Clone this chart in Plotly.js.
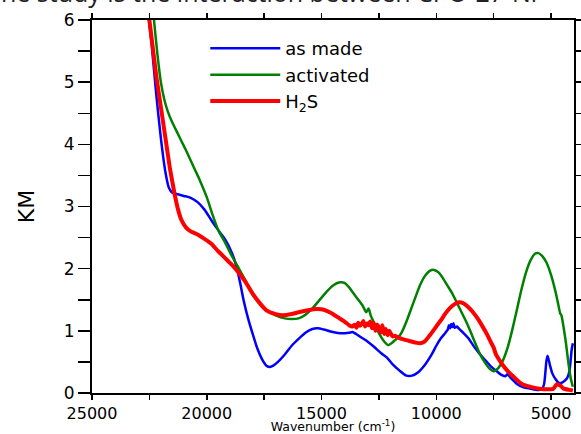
<!DOCTYPE html>
<html>
<head>
<meta charset="utf-8">
<script src="https://cdn.plot.ly/plotly-3.0.1.min.js"></script>
<style>html,body{margin:0;padding:0;background:#fff;}#chart{width:581px;height:434px;}</style>
</head>
<body>
<div id="chart"></div>
<script>
// Wavenumber (cm-1) and KM values
var asMadeX = [22700,22400,22200,22000,21800,21650,21500,21300,21000,20700,20400,20100,19800,19500,19200,18900,18700,18550,18400,18200,18000,17800,17600,17400,17250,17100,16900,16600,16300,16000,15700,15400,15150,14900,14600,14350,14100,13800,13650,13500,13300,13000,12700,12400,12150,11900,11600,11300,11050,10800,10500,10200,10000,9800,9600,9500,9450,9400,9350,9300,9250,9200,9100,9000,8800,8600,8400,8200,8000,7800,7600,7400,7200,7000,6900,6750,6500,6200,5900,5600,5400,5300,5200,5150,5050,4950,4800,4650,4500,4400,4300,4200,4100,4050];
var asMadeY = [6.6,5.6,4.8,4.1,3.55,3.3,3.22,3.2,3.17,3.14,3.07,2.95,2.78,2.62,2.47,2.25,2.03,1.78,1.5,1.2,0.95,0.72,0.55,0.44,0.42,0.44,0.5,0.62,0.76,0.87,0.97,1.03,1.04,1.02,0.99,0.97,0.96,0.97,0.98,0.95,0.9,0.83,0.74,0.64,0.57,0.46,0.36,0.28,0.28,0.33,0.45,0.62,0.76,0.88,0.97,1.02,1.09,1.04,1.11,1.06,1.12,1.05,1.07,1.03,0.96,0.88,0.77,0.67,0.58,0.5,0.42,0.36,0.3,0.27,0.3,0.24,0.15,0.09,0.07,0.05,0.06,0.15,0.52,0.6,0.45,0.32,0.22,0.16,0.17,0.2,0.24,0.35,0.7,0.8];

var activatedX = [22600,22450,22300,22150,22000,21850,21700,21500,21300,21100,20900,20700,20500,20300,20000,19750,19500,19200,18900,18600,18300,18100,17800,17400,17000,16600,16300,16000,15700,15400,15100,14800,14500,14200,14000,13800,13600,13400,13200,13050,12950,12850,12700,12550,12400,12250,12100,11950,11800,11650,11500,11300,11100,10900,10700,10500,10300,10100,9900,9700,9500,9300,9100,8900,8700,8500,8300,8100,7900,7700,7500,7300,7100,6900,6700,6500,6300,6100,5900,5700,5550,5400,5200,5000,4800,4700,4600,4550,4450,4350,4250,4150,4050];
var activatedY = [7.2,6.6,6.0,5.45,5.0,4.72,4.53,4.35,4.2,4.05,3.9,3.74,3.58,3.42,3.15,2.87,2.62,2.42,2.2,2.0,1.8,1.64,1.48,1.33,1.25,1.2,1.19,1.2,1.26,1.36,1.49,1.62,1.73,1.78,1.77,1.7,1.6,1.5,1.4,1.3,1.36,1.24,1.12,1.0,0.9,0.82,0.77,0.8,0.85,0.9,0.98,1.15,1.35,1.55,1.74,1.88,1.96,1.98,1.94,1.84,1.72,1.6,1.45,1.3,1.15,0.98,0.8,0.63,0.5,0.4,0.35,0.4,0.52,0.72,1.0,1.32,1.65,1.93,2.13,2.24,2.25,2.21,2.1,1.9,1.62,1.45,1.28,1.25,1.05,0.8,0.5,0.25,0.1];

var h2sX = [22700,22400,22200,22000,21800,21600,21400,21250,21100,20900,20700,20400,20100,19800,19500,19200,18900,18600,18300,18000,17700,17400,17000,16700,16300,16000,15600,15200,14900,14600,14300,14000,13800,13650,13550,13480,13400,13320,13250,13180,13100,13020,12950,12880,12800,12730,12650,12580,12500,12420,12350,12270,12200,12120,12050,11970,11900,11800,11650,11500,11200,10900,10700,10500,10300,10000,9800,9600,9400,9200,9000,8800,8600,8400,8200,8000,7800,7600,7500,7400,7200,7000,6800,6600,6400,6200,6000,5800,5500,5200,4900,4750,4600,4450,4200,4050];
var h2sY = [6.6,5.7,5.1,4.6,4.1,3.6,3.2,2.95,2.78,2.66,2.6,2.55,2.48,2.4,2.28,2.17,2.06,1.93,1.78,1.6,1.45,1.33,1.27,1.25,1.27,1.3,1.33,1.35,1.34,1.29,1.22,1.15,1.09,1.07,1.1,1.05,1.13,1.08,1.11,1.16,1.07,1.12,1.09,1.15,1.04,1.13,1.0,1.1,1.06,0.97,1.09,0.95,1.03,0.93,1.0,0.95,0.91,0.92,0.89,0.87,0.84,0.81,0.8,0.83,0.92,1.07,1.17,1.28,1.37,1.43,1.46,1.44,1.38,1.3,1.2,1.08,0.95,0.8,0.73,0.62,0.5,0.4,0.32,0.25,0.18,0.13,0.11,0.09,0.07,0.06,0.07,0.14,0.12,0.07,0.05,0.04];

var xTickVals = [25000,20000,15000,10000,5000];
var yTickVals = [0,1,2,3,4,5,6];

var traces = [
  {x: asMadeX, y: asMadeY, name: 'as made', mode: 'lines', line: {color: '#0000ff', width: 2.5, shape: 'spline', smoothing: 0.6}},
  {x: activatedX, y: activatedY, name: 'activated', mode: 'lines', line: {color: '#008000', width: 2.5, shape: 'spline', smoothing: 0.6}},
  {x: h2sX, y: h2sY, name: 'H<sub>2</sub>S', mode: 'lines', line: {color: '#ff0000', width: 4, shape: 'spline', smoothing: 0.5}}
];

var font = 'DejaVu Sans, Liberation Sans, Arial, sans-serif';
var layout = {
  width: 581, height: 434,
  margin: {l: 92, r: 7, t: 20, b: 41},
  paper_bgcolor: '#ffffff', plot_bgcolor: '#ffffff',
  showlegend: true,
  legend: {x: 0.235, y: 0.973, xanchor: 'left', yanchor: 'top', bgcolor: 'rgba(0,0,0,0)', font: {family: font, size: 18, color: '#000'}, itemwidth: 70, tracegroupgap: 0},
  xaxis: {
    range: [25000, 4000], autorange: false,
    tickvals: xTickVals, ticktext: xTickVals.map(String),
    ticks: 'outside', ticklen: 5, tickwidth: 1.5, tickcolor: '#000',
    minor: {dtick: 2500, tick0: 0, ticks: 'outside', ticklen: 5, tickwidth: 1.5, tickcolor: '#000'},
    showline: true, linecolor: '#000', linewidth: 2, mirror: 'ticks',
    showgrid: false, zeroline: false,
    tickfont: {family: font, size: 16, color: '#000'},
    title: {text: 'Wavenumber (cm<sup>-1</sup>)', font: {family: font, size: 12.5, color: '#000'}, standoff: 8}
  },
  yaxis: {
    range: [0, 6], autorange: false,
    tickvals: yTickVals,
    ticks: 'outside', ticklen: 12, tickwidth: 1.5, tickcolor: '#000',
    minor: {dtick: 0.5, ticks: 'outside', ticklen: 12, tickwidth: 1.5, tickcolor: '#000'},
    showline: true, linecolor: '#000', linewidth: 2, mirror: 'ticks',
    showgrid: false, zeroline: false,
    tickfont: {family: font, size: 17, color: '#000'},
    title: {text: 'KM', font: {family: font, size: 22, color: '#000'}, standoff: 23}
  },
  annotations: [{
    text: 'ne study is the interaction between CPO-27-Ni',
    xref: 'paper', yref: 'paper', x: -0.193, y: 1.074, xanchor: 'left', yanchor: 'middle',
    showarrow: false, font: {family: 'Open Sans, sans-serif', size: 25, color: '#222'}
  }]
};

Plotly.newPlot('chart', traces, layout, {displayModeBar: false, staticPlot: true});
</script>
</body>
</html>
